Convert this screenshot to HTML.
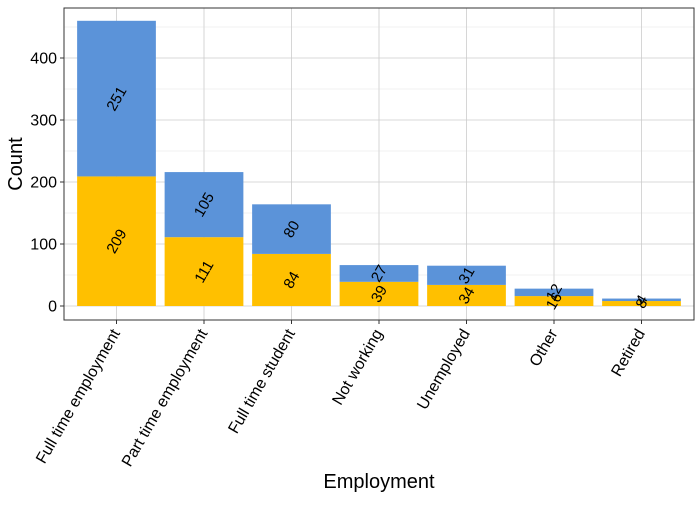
<!DOCTYPE html>
<html><head><meta charset="utf-8"><style>
body{margin:0;background:#fff;font-family:"Liberation Sans",sans-serif}
svg text{font-family:"Liberation Sans",sans-serif}
</style></head><body>
<svg id="c" width="700" height="500" xmlns="http://www.w3.org/2000/svg"></svg>
<script>
const categories=["Full time employment","Part time employment","Full time student","Not working","Unemployed","Other","Retired"];
const yellowValues=[209,111,84,39,34,16,8];
const blueValues=[251,105,80,27,31,12,4];
const yTicks=[0,100,200,300,400];
const yMinor=[50,150,250,350,450];
const L=64,R=694,T=8,B=320;
const y0=306, pxPer=0.62;
function y(v){return y0-v*pxPer;}
const unit=(R-L)/7.2;
function x(i){return L+(i+0.6)*unit;}
const bw=0.9*unit;
const svg=document.getElementById('c');
const NS="http://www.w3.org/2000/svg";
function el(t,a,txt){const e=document.createElementNS(NS,t);for(const k in a)e.setAttribute(k,a[k]);if(txt!==undefined)e.textContent=txt;svg.appendChild(e);return e;}
let e=el('rect',{x:L,y:T,width:R-L,height:B-T,fill:'#fff'});


yMinor.forEach(v=>{const g=el('line',{x1:L,x2:R,y1:y(v),y2:y(v),stroke:'#e6e6e6','stroke-width':0.6});

});
yTicks.forEach(v=>{const g=el('line',{x1:L,x2:R,y1:y(v),y2:y(v),stroke:'#cccccc','stroke-width':0.8});


const t=el('text',{x:L-7,y:y(v)+5.5,'text-anchor':'end','font-size':16,fill:'#000'},v);


const k=el('line',{x1:L-4,x2:L,y1:y(v),y2:y(v),stroke:'#333'});

});
categories.forEach((c,i)=>{const g=el('line',{x1:x(i),x2:x(i),y1:T,y2:B,stroke:'#cccccc','stroke-width':0.8});

});
categories.forEach((c,i)=>{
const cx=x(i),yv=yellowValues[i],bv=blueValues[i];
const r1=el('rect',{x:cx-bw/2,y:y(yv),width:bw,height:y(0)-y(yv),fill:'#FFC000'});


const r2=el('rect',{x:cx-bw/2,y:y(yv+bv),width:bw,height:y(yv)-y(yv+bv),fill:'#5B93D9'});


[[yv/2,yv],[yv+bv/2,bv]].forEach(([m,val])=>{
const t=el('text',{x:cx,y:y(m)+5,'text-anchor':'middle','font-size':15,fill:'#000',transform:`rotate(-60 ${cx} ${y(m)})`},val);

});
const k=el('line',{x1:cx,x2:cx,y1:B,y2:B+4,stroke:'#333'});


const lx=cx+4,ly=B+13;
const t=el('text',{x:lx,y:ly,'text-anchor':'end','font-size':16,fill:'#000',transform:`rotate(-60 ${lx} ${ly})`},c);


});
e=el('rect',{x:L,y:T,width:R-L,height:B-T,fill:'none',stroke:'#333','stroke-width':1});


e=el('text',{x:(L+R)/2,y:488,'text-anchor':'middle','font-size':20,fill:'#000'},'Employment');


e=el('text',{x:22,y:(T+B)/2,'text-anchor':'middle','font-size':20,fill:'#000',transform:`rotate(-90 22 ${(T+B)/2})`},'Count');


</script>
</body></html>
